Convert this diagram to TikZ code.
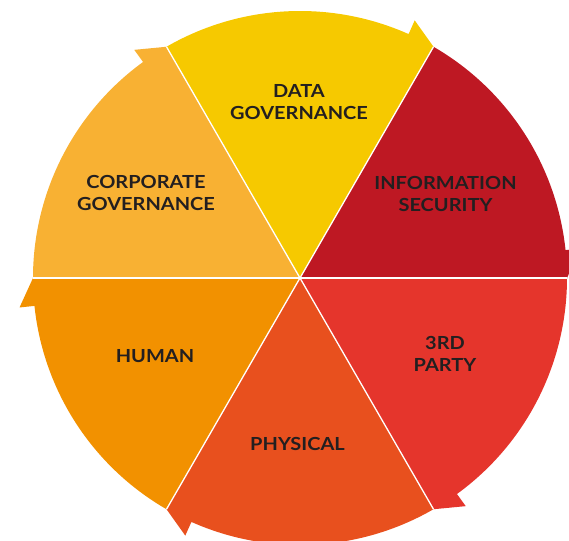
\documentclass[tikz,border=0pt]{standalone}
\usepackage{fontspec}
\setmainfont{Lato}[FakeStretch=1.11]
\definecolor{cdata}{HTML}{F6C900}
\definecolor{ccorp}{HTML}{F8B133}
\definecolor{cinfo}{HTML}{BE1823}
\definecolor{chuman}{HTML}{F29100}
\definecolor{cphys}{HTML}{E8501E}
\definecolor{cthird}{HTML}{E5352C}
\definecolor{txt}{HTML}{231F20}
\begin{document}
\begin{tikzpicture}[x=1pt,y=1pt,
  divider/.style={white, line width=1.3pt},
  lbl/.style={font=\bfseries\fontsize{18}{22}\selectfont, text=txt, align=center, inner sep=0pt}]
\useasboundingbox (-300,-262) rectangle (269,278);
\def\R{267}
\def\Ro{282}
\coordinate (c) at (0,0);
\foreach \a/\col in {0/cinfo,60/cdata,120/ccorp,180/chuman,240/cphys,300/cthird} {
  \fill[\col] (c) -- (\a+60:\R) arc[start angle=\a+60, end angle=\a+6, radius=\R]
     -- (\a+6:\Ro) -- (\a:\R) -- cycle;
}
\foreach \a in {0,60,...,300} {
  \coordinate (b\a) at (\a:\R);
  \draw[divider] (c) -- (b\a);
}
\node[lbl] (data) at (-1,176) {DATA\\GOVERNANCE};
\node[lbl] (corp) at (-154,85) {CORPORATE\\GOVERNANCE};
\node[lbl] (info) at (145.5,84.5) {INFORMATION\\SECURITY};
\node[lbl] (human) at (-145,-78.5) {HUMAN};
\node[lbl] (phys) at (-2.5,-165.5) {PHYSICAL};
\node[lbl] (third) at (145,-76) {3RD\\PARTY};
\end{tikzpicture}
\end{document}
